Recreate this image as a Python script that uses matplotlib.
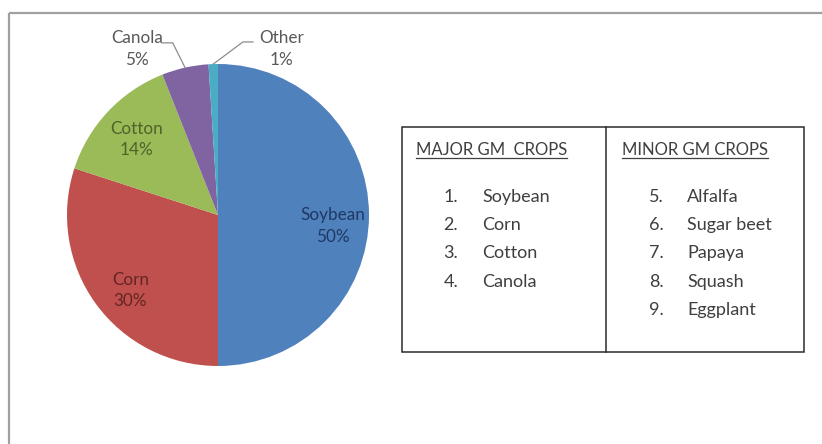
import matplotlib
matplotlib.use("Agg")
import matplotlib.pyplot as plt
from matplotlib.patches import Rectangle
import numpy as np

# ---- data ----
crops = ["Soybean", "Corn", "Cotton", "Canola", "Other"]
shares = [50, 30, 14, 5, 1]
slice_colors = ["#4F81BD", "#C0504D", "#9BBB59", "#8064A2", "#4BACC6"]
label_colors = ["#1F3864", "#632523", "#4F6228", "#595959", "#595959"]

major_title = "MAJOR GM  CROPS"
major_crops = ["Soybean", "Corn", "Cotton", "Canola"]
minor_title = "MINOR GM CROPS"
minor_crops = ["Alfalfa", "Sugar beet", "Papaya", "Squash", "Eggplant"]

# ---- layout ----
W, H = 822, 444
FONT = "Lato"
FS_PIE = 12.3
FS_HEAD = 12
FS_ITEM = 13
TXT = "#3F3F3F"

fig = plt.figure(figsize=(W / 100, H / 100), dpi=100)
bg = fig.add_axes([0, 0, 1, 1])
bg.set_xlim(0, W)
bg.set_ylim(H, 0)
bg.axis("off")
bg.add_patch(Rectangle((9, 13), W + 20, H + 20, fill=False,
                       edgecolor="#A0A0A0", linewidth=1.6))

# pie axes: centre (218,215) px, radius 151 px
cx, cy, R = 218, 215, 151
pax = fig.add_axes([(cx - R) / W, (H - cy - R) / H, 2 * R / W, 2 * R / H])
wedges, _ = pax.pie(shares, colors=slice_colors, startangle=90,
                    counterclock=False, radius=1.0,
                    wedgeprops=dict(edgecolor="none"))
pax.set_xlim(-1, 1)
pax.set_ylim(-1, 1)
pax.set_aspect("equal")
pax.axis("off")

# label positions (pie axes units)
label_pos = [(0.76, -0.075), (-0.58, -0.50), (-0.54, 0.50),
             (-0.535, 1.10), (0.42, 1.10)]
for name, val, pos, col in zip(crops, shares, label_pos, label_colors):
    pax.text(pos[0], pos[1], f"{name}\n{val}%", ha="center", va="center",
             color=col, fontsize=FS_PIE, family=FONT, linespacing=1.45,
             clip_on=False)

# leader lines for small slices
leader = {3: [(-0.30, 1.14), (-0.37, 1.14)], 4: [(0.165, 1.146), (0.232, 1.146)]}
for i, pts in leader.items():
    w = wedges[i]
    mid = np.deg2rad((w.theta1 + w.theta2) / 2)
    start = (np.cos(mid), np.sin(mid))
    xs = [start[0]] + [p[0] for p in pts]
    ys = [start[1]] + [p[1] for p in pts]
    pax.plot(xs, ys, color="#8C8C8C", lw=0.9, clip_on=False)

# ---- table ----
bg.add_patch(Rectangle((402, 127), 402, 225, fill=False,
                       edgecolor="#2B2B2B", linewidth=1.1))
bg.plot([606, 606], [127, 352], color="#2B2B2B", lw=1.1)

h1 = bg.text(416, 150, major_title, ha="left", va="center", fontsize=FS_HEAD,
             family=FONT, color=TXT)
h2 = bg.text(622, 150, minor_title, ha="left", va="center", fontsize=FS_HEAD,
             family=FONT, color=TXT)

row_y = [197, 225, 253, 282, 310]
for k, name in enumerate(major_crops):
    bg.text(458, row_y[k], f"{k + 1}.", ha="right", va="center",
            fontsize=FS_ITEM, family=FONT, color=TXT)
    bg.text(482, row_y[k], name, ha="left", va="center",
            fontsize=FS_ITEM, family=FONT, color=TXT)
off = len(major_crops)
for k, name in enumerate(minor_crops):
    bg.text(664, row_y[k], f"{k + 1 + off}.", ha="right", va="center",
            fontsize=FS_ITEM, family=FONT, color=TXT)
    bg.text(687, row_y[k], name, ha="left", va="center",
            fontsize=FS_ITEM, family=FONT, color=TXT)

# underline headers
fig.canvas.draw()
r = fig.canvas.get_renderer()
for t in (h1, h2):
    bb = t.get_window_extent(renderer=r)
    bg.plot([bb.x0, bb.x1], [158, 158], color=TXT, lw=0.9)

fig.savefig("out.png", dpi=100, facecolor="white")
